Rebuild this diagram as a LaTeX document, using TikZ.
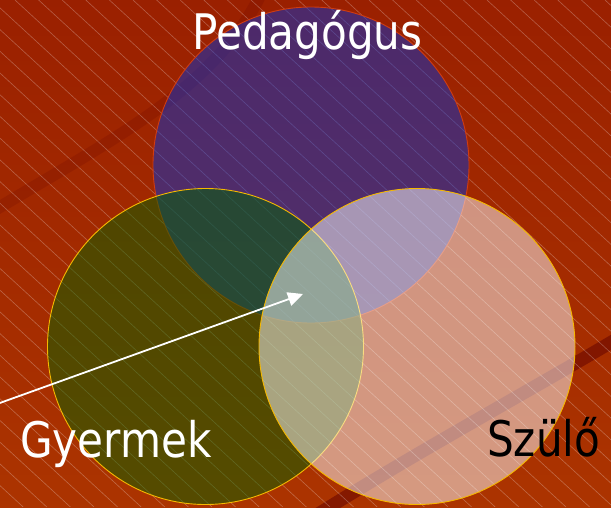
\documentclass[tikz,border=0pt]{standalone}
\usepackage{fontspec}
\newfontfamily\lblfont[FakeStretch=0.86]{DejaVu Sans}
\usetikzlibrary{arrows.meta}
\definecolor{bgTop}{HTML}{8C1000}
\definecolor{bgMid}{HTML}{A32600}
\definecolor{bgBot}{HTML}{BA4400}
\definecolor{swoosh}{HTML}{600000}
\definecolor{pedfill}{RGB}{0,50,212}
\definecolor{gyfill}{RGB}{0,100,0}
\definecolor{szfill}{RGB}{255,255,255}
\definecolor{pedline}{HTML}{D03C10}
\definecolor{goldline}{HTML}{F5B800}
\tikzset{
  venn/.style={circle, minimum size=316pt, inner sep=0pt, outer sep=0pt, fill opacity=0.5, line width=0.9pt},
  lbl/.style={font=\lblfont\fontsize{49}{58}\selectfont, inner sep=0pt, anchor=base west},
  hatch/.style={draw=white, draw opacity=0.27, line width=0.6pt},
  arrowline/.style={draw=white, line width=1.8pt, -{Triangle[length=15pt,width=14pt]}},
}
\begin{document}
\begin{tikzpicture}[x=1pt,y=1pt]
\useasboundingbox (0,0) rectangle (611,-507);
\begin{scope}
\clip (0,0) rectangle (611,-507);
% background
\shade[top color=bgTop, middle color=bgMid, bottom color=bgBot, rotate around={-40:(305,-253)}] (-150,-750) rectangle (761,240);
% swoosh arcs
\draw[swoosh, opacity=0.17, line width=12pt] (-10,-213) .. controls (110,-140) and (215,-90) .. (262,8);
\draw[swoosh, opacity=0.5, line width=13pt] (625,-334) .. controls (540,-385) and (420,-450) .. (315,-516);
% hatching
\foreach \i in {-24,...,27} {
  \draw[hatch] ({15+\i*23.6},0) -- ++(551,-507);
}
\end{scope}
% circles
\node[venn, fill=pedfill, draw=pedline] (ped) at (311,-165) {};
\node[venn, fill=gyfill, draw=goldline] (gy) at (205.5,-346.5) {};
\node[venn, fill=szfill, draw=goldline] (sz) at (417,-346.5) {};
% labels
\node[lbl, text=white] (pedlbl) at (192,-49) {Pedagógus};
\node[lbl, text=white] (gylbl) at (20,-457) {Gyermek};
\node[lbl, text=black] (szlbl) at (487,-456) {Szülő};
% arrow
\coordinate (astart) at (-3,-404);
\coordinate (atip) at (303,-294);
\draw[arrowline] (astart) -- (atip);
\end{tikzpicture}
\end{document}
